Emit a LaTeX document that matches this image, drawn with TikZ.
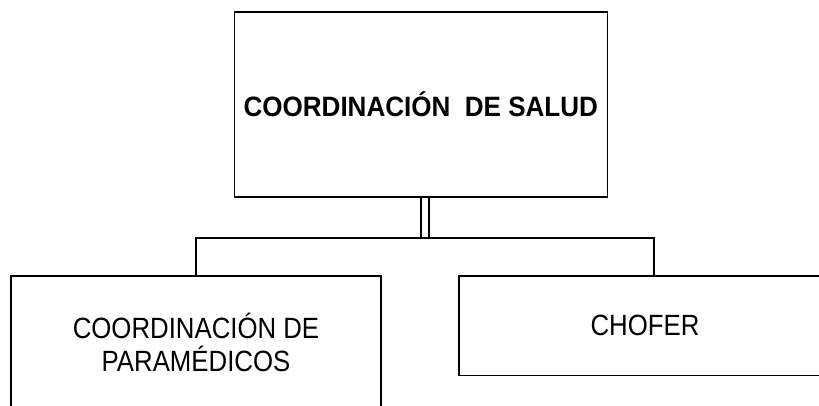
\documentclass[tikz,border=0pt]{standalone}
\usepackage{fontspec}
\newfontfamily\headfont[FakeStretch=0.93]{Liberation Sans}
\newfontfamily\boxfont[FakeStretch=0.88]{Liberation Sans}

\begin{document}
\begin{tikzpicture}[x=1pt,y=-1pt,
    orgbox/.style={draw, line width=1.5pt, inner sep=0pt, align=center},
    link/.style={line width=1.5pt}]
    % Fix the page size
    \useasboundingbox (0,0) rectangle (819,406);
    \clip (0,0) rectangle (819,406);

    % Define the boxes
    \node [orgbox, minimum width=373pt, minimum height=185pt,
        font=\headfont\bfseries\fontsize{28}{33}\selectfont] (salud) at (420.8,104.6) {COORDINACIÓN\ \ DE SALUD};
    \node [orgbox, minimum width=370pt, minimum height=132pt,
        font=\boxfont\fontsize{29.3}{33}\selectfont] (para) at (196,342) {COORDINACIÓN DE\\PARAMÉDICOS};
    \node [orgbox, minimum width=372pt, minimum height=99.5pt,
        font=\boxfont\fontsize{29.3}{33}\selectfont] (chofer) at (645,325.8) {CHOFER};

    % Define coordinates for the bus
    \coordinate (bus) at (425,238);
    \coordinate (busR) at (654,238);

    % Draw the double line and the bus
    \draw [link, double, double distance=6.5pt] (salud.south -| bus) -- (bus);
    \draw [link] (para.north) |- (busR) -- (busR |- chofer.north);

\end{tikzpicture}
\end{document}
